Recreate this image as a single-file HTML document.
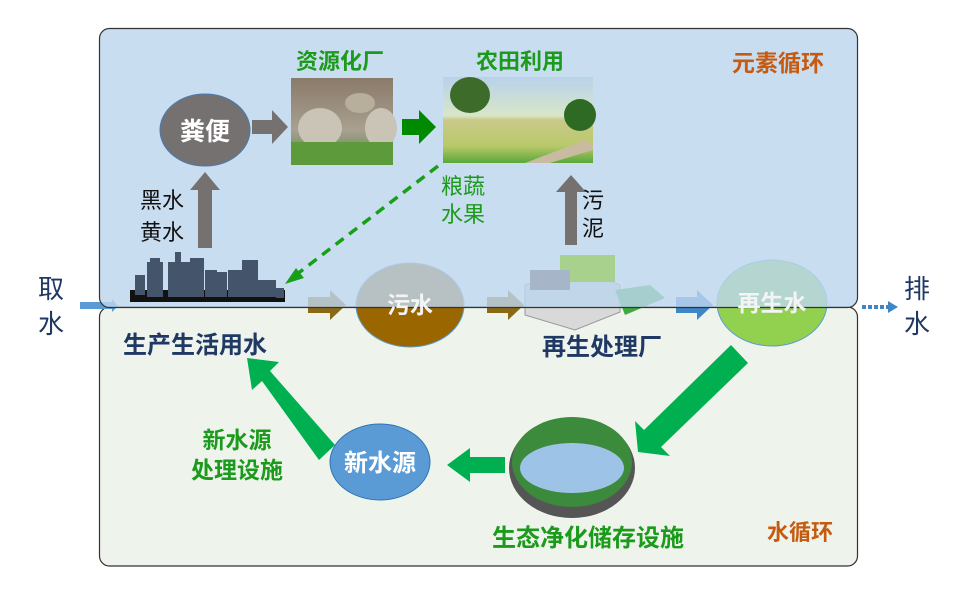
<!DOCTYPE html>
<html><head><meta charset="utf-8"><style>
body{margin:0;background:#fff}
svg{display:block}
text{font-family:"Liberation Sans","Noto Sans CJK SC",sans-serif}
</style></head><body>
<svg width="957" height="608" viewBox="0 0 957 608" xmlns="http://www.w3.org/2000/svg">
<defs>
<linearGradient id="sky" x1="0" y1="0" x2="0" y2="1"><stop offset="0" stop-color="#b8d2ea"/><stop offset="0.45" stop-color="#d8e6c8"/><stop offset="0.5" stop-color="#c9c98a"/><stop offset="0.8" stop-color="#b9c96a"/><stop offset="1" stop-color="#5aa83a"/></linearGradient>
<linearGradient id="fac" x1="0" y1="0" x2="0" y2="1"><stop offset="0" stop-color="#8a7a6a"/><stop offset="0.6" stop-color="#a8a090"/><stop offset="1" stop-color="#4f8a3a"/></linearGradient>
</defs>
<rect x="99.5" y="307" width="758" height="259" rx="10" fill="#eef4ec" stroke="#333" stroke-width="1.2"/>
<ellipse cx="410" cy="305" rx="54" ry="42" fill="#996600" stroke="#5b9bd5" stroke-width="1"/>
<ellipse cx="772" cy="303" rx="55" ry="43" fill="#92d050" stroke="#5b9bd5" stroke-width="1"/>
<polygon points="308,297 330,297 330,290 346,305 330,320 330,313 308,313" fill="#8b6914"/>
<polygon points="487,297 508,297 508,290 524,305 508,320 508,313 487,313" fill="#8b6914"/>
<polygon points="676,297 697,297 697,290 713,305 697,320 697,313 676,313" fill="#3f86c8"/>
<polygon points="80,302 112,302 112,299 118,306 112,312 112,309 80,309" fill="#5b9bd5"/>
<polygon points="525,285 580,270 620,285 620,312 575,330 525,315" fill="#d9d9d9" stroke="#999"/>
<polygon points="615,290 650,285 665,298 625,315" fill="#3faa3f"/>
<rect x="99.5" y="28.5" width="758" height="279" rx="10" fill="#bdd5ee" fill-opacity="0.82" stroke="#333" stroke-width="1.2"/>
<text x="410" y="313" fill="#f4f4f4" font-size="23" font-weight="bold" text-anchor="middle">污水</text>
<text x="772" y="311" fill="#f4f4f4" font-size="23" font-weight="bold" text-anchor="middle">再生水</text>
<!-- city -->
<g fill="#44546a">
<rect x="130" y="290" width="155" height="12" fill="#111"/>
<rect x="135" y="275" width="10" height="20"/><rect x="147" y="262" width="16" height="35"/>
<rect x="150" y="258" width="10" height="6"/><rect x="168" y="262" width="22" height="35"/>
<rect x="175" y="252" width="6" height="12"/><rect x="190" y="258" width="14" height="39"/>
<rect x="205" y="270" width="12" height="27"/><rect x="217" y="272" width="10" height="25"/>
<rect x="228" y="270" width="14" height="27"/><rect x="242" y="260" width="16" height="37"/>
<rect x="258" y="280" width="18" height="17"/><rect x="276" y="288" width="8" height="10"/>
</g>
<rect x="560" y="255" width="55" height="27" fill="#a9d18e"/>
<rect x="530" y="270" width="40" height="20" fill="#a6b6c8"/>
<!-- feces -->
<ellipse cx="205" cy="130" rx="45" ry="36" fill="#767171" stroke="#4a7ab0" stroke-width="1"/>
<text x="205" y="140" fill="#fff" font-size="25" font-weight="bold" text-anchor="middle">粪便</text>
<polygon points="198,248 212,248 212,190 220,190 205,172 190,190 198,190" fill="#767171"/>
<polygon points="252,120 272,120 272,110 288,127 272,144 272,134 252,134" fill="#767171"/>
<rect x="291" y="78" width="102" height="87" fill="url(#fac)"/>
<ellipse cx="320" cy="128" rx="22" ry="20" fill="#c9c4b6"/><ellipse cx="381" cy="128" rx="16" ry="20" fill="#c9c4b6"/><ellipse cx="360" cy="103" rx="15" ry="10" fill="#b8ae9c"/>
<rect x="291" y="142" width="102" height="23" fill="#5c9a3c"/>
<polygon points="402,119 419,119 419,110 436,127 419,144 419,135 402,135" fill="#008a00"/>
<rect x="443" y="77" width="150" height="86" fill="url(#sky)"/>
<ellipse cx="470" cy="95" rx="20" ry="18" fill="#3d6b2a"/><ellipse cx="580" cy="115" rx="16" ry="16" fill="#2f6a25"/>
<polygon points="525,163 585,140 593,145 593,150 550,163" fill="#c8bba0"/>
<polygon points="565,245 565,192 556,192 571,175 586,192 577,192 577,245" fill="#767171"/>
<line x1="438" y1="166" x2="292" y2="278" stroke="#17a017" stroke-width="3.5" stroke-dasharray="10,7"/>
<polygon points="285,284 296,268 304,278" fill="#17a017"/>
<text x="340" y="69" fill="#1c9a1c" font-size="22" font-weight="bold" text-anchor="middle">资源化厂</text>
<text x="520" y="69" fill="#1c9a1c" font-size="22" font-weight="bold" text-anchor="middle">农田利用</text>
<text x="778" y="71" fill="#c55a11" font-size="23" font-weight="bold" text-anchor="middle">元素循环</text>
<text x="441" y="194" fill="#1c9a1c" font-size="22">粮蔬</text>
<text x="441" y="222" fill="#1c9a1c" font-size="22">水果</text>
<text x="140" y="208" fill="#111" font-size="22">黑水</text>
<text x="140" y="240" fill="#111" font-size="22">黄水</text>
<text x="582" y="208" fill="#111" font-size="22">污</text>
<text x="582" y="236" fill="#111" font-size="22">泥</text>
<text x="38" y="298" fill="#1f3864" font-size="26">取</text>
<text x="38" y="333" fill="#1f3864" font-size="26">水</text>
<text x="904" y="298" fill="#1f3864" font-size="26">排</text>
<text x="904" y="333" fill="#1f3864" font-size="26">水</text>
<line x1="862" y1="307" x2="890" y2="307" stroke="#3f86c8" stroke-width="4" stroke-dasharray="4,2"/>
<polygon points="888,301 898,307 888,313" fill="#3f86c8"/>
<text x="195" y="353" fill="#1f3864" font-size="24" font-weight="bold" text-anchor="middle">生产生活用水</text>
<text x="602" y="355" fill="#1f3864" font-size="24" font-weight="bold" text-anchor="middle">再生处理厂</text>
<polygon points="731,345 748,363 661,447 670,456 638,452 635,421 644,430" fill="#00b050"/>
<ellipse cx="572" cy="468" rx="63" ry="50" fill="#555"/>
<ellipse cx="572" cy="462" rx="60" ry="45" fill="#3c8a3c"/>
<ellipse cx="572" cy="468" rx="52" ry="25" fill="#9dc3e6"/>
<polygon points="505,457 470,457 470,448 447,465 470,482 470,473 505,473" fill="#00b050"/>
<ellipse cx="380" cy="462" rx="50" ry="38" fill="#5b9bd5" stroke="#2e75b6" stroke-width="1"/>
<text x="380" y="471" fill="#fff" font-size="24" font-weight="bold" text-anchor="middle">新水源</text>
<polygon points="335,445 319,460 262,381 252,390 247,358 279,362 270,371" fill="#00b050"/>
<text x="237" y="448" fill="#1c9a1c" font-size="23" font-weight="bold" text-anchor="middle">新水源</text>
<text x="237" y="478" fill="#1c9a1c" font-size="23" font-weight="bold" text-anchor="middle">处理设施</text>
<text x="588" y="546" fill="#1c9a1c" font-size="24" font-weight="bold" text-anchor="middle">生态净化储存设施</text>
<text x="800" y="540" fill="#c55a11" font-size="22" font-weight="bold" text-anchor="middle">水循环</text>
</svg>
</body></html>
